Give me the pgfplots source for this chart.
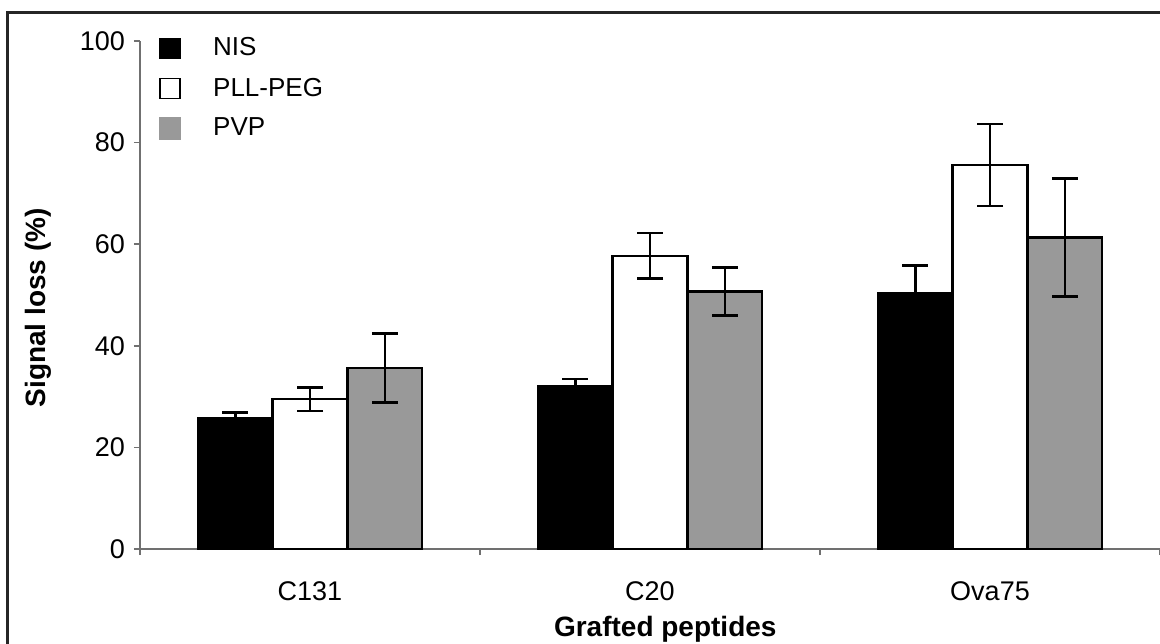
\documentclass[border=0pt]{standalone}
\usepackage{fontspec}
\setmainfont{Liberation Sans}
\usepackage{pgfplots}
\pgfplotsset{compat=1.18}
\definecolor{pvpgray}{HTML}{999999}
\definecolor{axgray}{HTML}{707070}
\begin{document}
\begin{tikzpicture}[font=\fontsize{13.5}{16}\selectfont]
\useasboundingbox (-70pt,-47pt) rectangle (510pt,274.5pt);
\draw[line width=1.5pt, black!85] (-66pt,-48pt) -- (-66pt,268pt) -- (511pt,268pt);
\begin{axis}[
  at={(0,0)}, anchor=south west,
  scale only axis, width=510pt, height=254pt,
  xmin=-0.5, xmax=2.5, ymin=0, ymax=100,
  axis x line*=bottom, axis y line*=left,
  axis line style={axgray, line width=0.8pt, -},
  ybar=0pt, bar width=0.22,
  xtick={0,1,2}, xticklabels={C131,C20,Ova75},
  minor xtick={-0.5,0.5,1.5,2.5},
  major x tick style={draw=none},
  minor x tick style={draw=axgray, line width=0.8pt},
  minor tick length=3pt,
  ytick={0,20,40,60,80,100},
  y tick style={draw=axgray, line width=0.8pt},
  major tick length=3pt,
  tick align=outside,
  /pgf/number format/assume math mode=true,
  tick label style={font=\fontsize{13.5}{16}\selectfont},
  xticklabel style={yshift=-10pt},
  yticklabel style={xshift=-1pt},
  xlabel={\bfseries Grafted peptides},
  ylabel={\bfseries Signal loss (\%)},
  label style={font=\fontsize{14}{16}\selectfont},
  xlabel style={at={(axis description cs:0.515,-0.158)}, anchor=center},
  ylabel style={at={(axis description cs:-0.1,0.475)}, anchor=center},
  legend image code/.code={\draw[#1, line width=0.7pt] (0pt,-5pt) rectangle (10pt,5pt);},
  legend style={draw=none, fill=none, at={(axis description cs:0.018,1.015)}, anchor=north west,
    font=\fontsize{13}{16}\selectfont, row sep=5.5pt, column sep=14pt, inner sep=0pt},
  legend cell align=left,
]
\addplot[fill=black, draw=black, line width=1.2pt,
  error bars/.cd, y dir=both, y explicit,
  error bar style={line width=1.3pt, black},
  error mark options={rotate=90, mark size=6.5pt, line width=1.3pt, black}]
  coordinates {(0,25.7) +- (0,1.2) (1,32.1) +- (0,1.4) (2,50.3) +- (0,5.5)};
\addplot[fill=white, draw=black, line width=1.2pt,
  error bars/.cd, y dir=both, y explicit,
  error bar style={line width=1.3pt, black},
  error mark options={rotate=90, mark size=6.5pt, line width=1.3pt, black}]
  coordinates {(0,29.5) +- (0,2.3) (1,57.7) +- (0,4.5) (2,75.6) +- (0,8.1)};
\addplot[fill=pvpgray, draw=black, line width=1.2pt,
  legend image code/.code={\fill[pvpgray] (0pt,-5pt) rectangle (10pt,5pt);},
  error bars/.cd, y dir=both, y explicit,
  error bar style={line width=1.3pt, black},
  error mark options={rotate=90, mark size=6.5pt, line width=1.3pt, black}]
  coordinates {(0,35.6) +- (0,6.8) (1,50.7) +- (0,4.7) (2,61.3) +- (0,11.6)};
\legend{NIS, PLL-PEG, PVP}
\end{axis}
\end{tikzpicture}
\end{document}
